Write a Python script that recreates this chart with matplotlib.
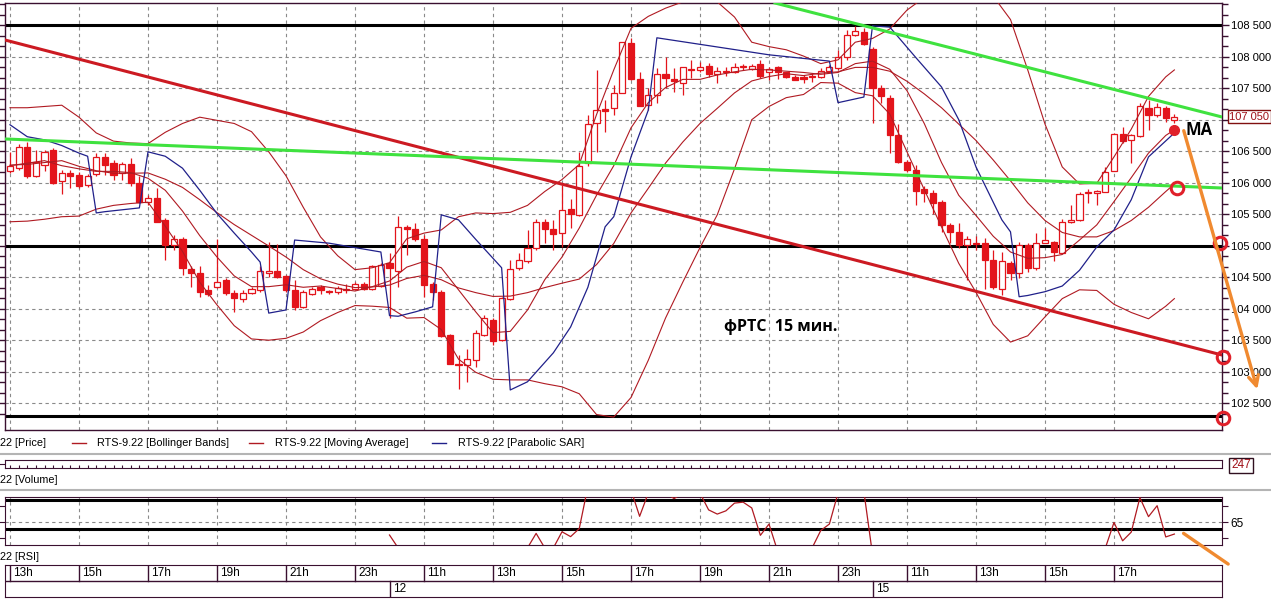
import numpy as np
import matplotlib
matplotlib.use("Agg")
import matplotlib.pyplot as plt
from matplotlib.patches import Rectangle

W, H = 1271, 601

# ---------------- candles (15 min bars) ----------------
opens = [106190,106230,106570,106100,106280,106520,106020,106150,106120,105960,
         106140,106410,106310,106150,106300,106000,105690,105750,105410,105010,
         105100,104630,104560,104290,104350,104460,104250,104150,104250,104290,
         104570,104600,104520,104300,104030,104240,104340,104280,104260,104320,
         104310,104400,104320,104360,104730,104600,105290,105260,105100,104400,
         104270,103580,103130,103100,103190,103580,103820,103510,104150,104640,
         104760,104960,105370,105260,105200,105580,105490,106310,106940,107170,
         107180,107430,108210,107640,107240,107400,107730,107650,107590,107810,
         107790,107850,107730,107780,107750,107840,107810,107880,107760,107830,
         107750,107670,107670,107690,107670,107780,107820,107990,108340,108390,
         108120,107510,107340,106760,106330,106200,105900,105830,105700,105330,
         105220,105010,105020,105050,104780,104320,104730,104560,105010,104640,
         105050,105060,104890,105370,105410,105830,105840,105860,106190,106780,
         106680,106740,107180,107070,107190,107000]
highs = [106490,106610,106650,106520,106520,106550,106200,106200,106170,106140,
         106470,106470,106360,106330,106390,106100,105800,105920,105440,105170,
         105140,104670,104670,104380,105100,104490,104300,104300,104340,104670,
         105060,105020,104530,104460,104300,104350,104380,104290,104360,104400,
         104430,104430,104690,104720,104890,105470,105330,105360,105170,104430,
         104300,103600,103270,103360,103660,103900,103850,104190,104770,104880,
         105250,105430,105430,105410,105960,105740,106490,107070,107790,107310,
         107550,108240,108290,107750,107510,107820,107990,107820,107840,107950,
         107920,107900,107840,107840,107900,107880,107880,107940,107840,107860,
         107760,107710,107710,107740,107820,107870,108110,108430,108480,108450,
         108160,107550,107400,106930,106360,106280,105940,105880,105730,105360,
         105360,105150,105160,105120,104930,104900,104750,105060,105040,105200,
         105280,105080,105430,105650,105850,105900,105880,106250,106790,106890,
         106770,107270,107310,107270,107210,107090]
lows = [106150,106200,106080,106090,106190,105980,105820,105910,105920,105930,
        106110,106120,106040,106040,105940,105670,105650,105370,104770,104930,
        104540,104340,104190,104200,104330,104220,103940,104110,104230,104270,
        104510,104490,104270,103980,104010,104220,104230,104230,104240,104250,
        104290,104300,104300,104340,103850,104340,104850,105080,104190,104140,
        103550,103120,102720,102840,103080,103570,103420,103480,104140,104610,
        104720,104930,105040,104930,104980,105280,105470,106270,106490,106810,
        107070,107420,107630,107210,107150,107270,107510,107440,107390,107660,
        107760,107670,107580,107690,107740,107790,107790,107660,107630,107640,
        107660,107630,107580,107600,107660,107760,107790,107950,108330,108190,
        106950,107260,106470,106310,106170,105650,105700,105510,105220,105040,
        104960,104460,104930,104320,104320,104220,104460,104480,104590,104610,
        105040,104750,104880,105360,105390,105670,105650,105850,106190,106630,
        106310,106730,106840,107050,106970,106950]
closes = [106270,106570,106100,106330,106490,106000,106150,106110,105940,106110,
          106410,106280,106130,106290,105990,105700,105750,105380,105010,105100,
          104640,104560,104270,104230,104430,104250,104170,104250,104310,104600,
          104600,104510,104290,104030,104270,104320,104300,104270,104330,104290,
          104400,104320,104680,104690,104640,105300,105260,105100,104370,104260,
          103560,103130,103100,103200,103610,103850,103490,104170,104630,104780,
          104960,105380,105260,105180,105570,105510,106270,106930,107150,107140,
          107420,108230,107640,107220,107400,107730,107660,107610,107830,107790,
          107840,107730,107770,107750,107830,107840,107850,107690,107800,107750,
          107670,107630,107650,107670,107780,107830,107990,108340,108410,108200,
          107510,107370,106760,106330,106200,105870,105830,105680,105330,105220,
          105010,105100,105050,104780,104340,104750,104560,105010,104640,105050,
          105090,104900,105370,105410,105820,105860,105870,106170,106780,106660,
          106760,107220,107070,107200,107020,107050]

# ---------------- indicator lines (read at every 2nd bar) ----------------
band_bars = [0, 2, 4, 6, 8, 10, 12, 14, 16, 18, 20, 22, 24, 26, 28, 30, 32, 34,
             36, 38, 40, 42, 44, 46, 48, 50, 52, 54, 56, 58, 60, 62, 64, 66, 68,
             70, 72, 74, 76, 78, 80, 82, 84, 86, 88, 90, 92, 94, 96, 98, 100,
             102, 104, 106, 108, 110, 112, 114, 116, 118, 120, 122, 124, 126,
             128, 130, 132, 134, 135]
bb_upper = [107190, 107190, 107210, 107230, 107040, 106790, 106660, 106630,
            106620, 106800, 106940, 107040, 106990, 106940, 106810, 106490,
            106110, 105610, 105140, 104840, 104620, 104650, 104730, 105110,
            105200, 105250, 105460, 105520, 105510, 105530, 105640, 105860,
            106050, 106290, 107080, 107790, 108450, 108640, 108770, 108870,
            108910, 108870, 108630, 108230, 108160, 108110, 108010, 107890,
            107950, 108230, 108290, 108440, 108740, 108940, 109080, 109150,
            109090, 108960, 108590, 107790, 106930, 106250, 105980, 105990,
            106410, 106850, 107370, 107680, 107790]
bb_middle = [106280, 106290, 106320, 106350, 106260, 106190, 106150, 106150,
             106155, 106055, 105925, 105730, 105525, 105335, 105165, 104995,
             104820, 104620, 104475, 104390, 104335, 104345, 104375, 104480,
             104530, 104460, 104330, 104255, 104195, 104200, 104255, 104335,
             104405, 104470, 104700, 105035, 105520, 105910, 106310, 106645,
             106940, 107180, 107425, 107615, 107685, 107730, 107700, 107740,
             107760, 107830, 107830, 107770, 107610, 107410, 107190, 106930,
             106670, 106360, 106030, 105680, 105400, 105210, 105140, 105140,
             105240, 105400, 105610, 105860, 105980]
bb_lower = [105380, 105390, 105420, 105460, 105470, 105580, 105640, 105670,
            105690, 105310, 104910, 104420, 104060, 103730, 103520, 103500,
            103530, 103630, 103810, 103940, 104050, 104040, 104020, 103850,
            103860, 103670, 103200, 102990, 102880, 102870, 102870, 102810,
            102760, 102650, 102320, 102280, 102590, 103180, 103850, 104420,
            104970, 105490, 106220, 107000, 107210, 107350, 107400, 107590,
            107580, 107430, 107380, 107090, 106490, 105890, 105300, 104720,
            104260, 103750, 103470, 103570, 103870, 104160, 104300, 104290,
            104070, 103940, 103840, 104040, 104160]
moving_avg = [106270, 106310, 106350, 106270, 106220, 106180, 106180, 106160,
              106070, 105880, 105550, 105160, 104820, 104520, 104350, 104350,
              104380, 104340, 104360, 104320, 104280, 104350, 104440, 104660,
              104750, 104650, 104300, 103950, 103620, 103640, 103980, 104460,
              104820, 105280, 105800, 106270, 106870, 107270, 107510, 107640,
              107640, 107710, 107760, 107800, 107790, 107770, 107750, 107720,
              107750, 107890, 107930, 107800, 107460, 106940, 106320, 105800,
              105480, 105150, 104900, 104800, 104810, 104860, 105090, 105330,
              105700, 106080, 106470, 106750, 106840]

sar_bars = [0, 2, 4, 6, 8, 9, 10, 11, 13, 15, 16, 18, 20, 22, 24, 26, 28, 29,
            30, 32, 33, 37, 43, 44, 45, 47, 49, 50, 52, 54, 56, 57, 58, 60, 63,
            65, 67, 69, 70, 72, 74, 75, 88, 95, 96, 99, 100, 102, 105, 108, 110,
            112, 115, 116, 117, 118, 120, 122, 124, 126, 128, 130, 132, 135]
sar_vals = [106920, 106730, 106680, 106590, 106470, 106420, 105520, 105540,
            105570, 105600, 106490, 106420, 106230, 105880, 105510, 105200,
            104900, 104740, 103930, 103980, 105090, 105040, 104900, 103890,
            103880, 103950, 104030, 105490, 105410, 105100, 104800, 104650,
            102710, 102840, 103300, 103710, 104340, 105300, 105460, 106410,
            107150, 108300, 108030, 107930, 107270, 107360, 108490, 108470,
            107990, 107520, 107000, 106250, 105410, 105220, 104190, 104210,
            104270, 104360, 104610, 104980, 105250, 105730, 106410, 106790]

rsi_bars = [44, 45, 60, 61, 62, 63, 64, 65, 66, 67, 72, 73, 74, 76, 77, 78, 80,
            81, 82, 83, 84, 85, 86, 87, 88, 89, 93, 94, 95, 96, 99, 100, 127,
            128, 129, 130, 131, 132, 133, 134, 135]
rsi_vals = [61.0, 57.0, 57.0, 61.5, 57.0, 57.0, 62.0, 60.5, 63.0, 76.0, 75.0,
            66.8, 74.0, 74.0, 72.3, 74.0, 74.0, 68.8, 67.5, 68.5, 70.9, 71.2,
            69.4, 60.9, 64.4, 56.0, 57.0, 62.4, 64.4, 74.0, 74.5, 55.0, 57.0,
            64.9, 59.2, 61.9, 72.6, 66.7, 70.1, 60.4, 61.3]

hour_labels = ["13h", "15h", "17h", "19h", "21h", "23h", "11h", "13h", "15h",
               "17h", "19h", "21h", "23h", "11h", "13h", "15h", "17h"]
hour_bars = [0, 8, 16, 24, 32, 40, 48, 56, 64, 72, 80, 88, 96, 104, 112, 120, 128]
day_labels = ["12", "15"]
day_bars = [44, 100]

price_ticks = [102500, 103000, 103500, 104000, 104500, 105000, 105500, 106000,
               106500, 107000, 107500, 108000, 108500]
level_lines = [108500, 105000, 102300]
trend_red_x = [-0.58, 140.52]
trend_red_y = [108265, 103265]
green1_x = [-0.58, 140.52]
green1_y = [106694, 105916]
green2_x = [88.7, 140.52]
green2_y = [108852, 107043]
circle_x = [135.3, 140.3, 140.6, 140.6]
circle_y = [105916, 105043, 103233, 102265]
arrow_x = [136.0, 144.7]
arrow_y = [106868, 102678]
rsi_arrow_x = [135.8, 141.5]
rsi_arrow_y = [62.0, 51.5]
last_price = 107050
last_volume = 247
rsi_levels = [72, 63]
rsi_mid = 65

# ---------------- styles ----------------
RED = '#e3141b'
BAND = '#b01a22'
SARC = '#20208a'
GREEN = '#3fe23f'
TREND = '#cc1a22'
ORANGE = '#f08a30'
SPINE = '#3a1030'
GRIDC = '#8a8a8a'
NARROW = ['Liberation Sans', 'DejaVu Sans']

PXB = 8.625
XL = ((5 - 10) / PXB, (1222 - 10) / PXB)

fig = plt.figure(figsize=(W / 100, H / 100), dpi=100)
fig.patch.set_facecolor('white')


def ax_px(x0, y0, x1, y1):
    return fig.add_axes([x0 / W, 1 - y1 / H, (x1 - x0) / W, (y1 - y0) / H])


def ftext(x, y, s, **kw):
    fig.text(x / W, 1 - y / H, s, **kw)


def fmt_price(p):
    return f"{p // 1000} {p % 1000:03d}"


# ---------------- main price panel ----------------
ax = ax_px(5, 3, 1222, 430)
ax.set_xlim(*XL)
ax.set_ylim(108900 - 15.873 * 430, 108900 - 15.873 * 3)
for s in ax.spines.values():
    s.set_color(SPINE)
    s.set_linewidth(1.0)
for b in hour_bars:
    ax.axvline(b, color=GRIDC, lw=0.8, ls=(0, (3, 3)), zorder=1)
for p in price_ticks:
    ax.axhline(p, color=GRIDC, lw=0.8, ls=(0, (3, 3)), zorder=1)
for p in level_lines:
    ax.axhline(p, color='black', lw=2.2, zorder=2)

for series in (bb_upper, bb_middle, bb_lower, moving_avg):
    ax.plot(band_bars, series, color=BAND, lw=0.8, zorder=5)
ax.plot(sar_bars, sar_vals, color=SARC, lw=0.9, zorder=5)

for i, (o, h, l, cl) in enumerate(zip(opens, highs, lows, closes)):
    ax.plot([i, i], [l, h], color=RED, lw=0.9, zorder=3, solid_capstyle='butt')
    bot, top = min(o, cl), max(o, cl)
    ht = max(top - bot, 14)
    up = cl >= o
    ax.add_patch(Rectangle((i - 0.36, bot), 0.72, ht,
                           facecolor='white' if up else RED,
                           edgecolor=RED, lw=0.9, zorder=4))

ax.plot(trend_red_x, trend_red_y, color=TREND, lw=2.2, zorder=6)
ax.plot(green1_x, green1_y, color=GREEN, lw=2.2, zorder=6)
ax.plot(green2_x, green2_y, color=GREEN, lw=2.2, zorder=6)
ax.plot(circle_x, circle_y, ls='none', marker='o', ms=9, mfc='none',
        mec='#e0202a', mew=2.2, zorder=8, clip_on=False)
ax.plot([band_bars[-1]], [moving_avg[-1]], ls='none', marker='o', ms=7,
        color='#e0202a', zorder=8)
ax.text(136.3, 106837, 'MA', fontsize=12, fontweight='bold',
        family=['Open Sans', 'DejaVu Sans'], va='center', ha='left', zorder=9)
ax.text(89.4, 103710, 'фРТС  15 мин.', fontsize=11.5, fontweight='bold',
        family=['Open Sans', 'DejaVu Sans'], va='center', ha='center', zorder=9)
ax.annotate('', xy=(arrow_x[1], arrow_y[1]), xytext=(arrow_x[0], arrow_y[0]),
            arrowprops=dict(arrowstyle='->', color=ORANGE, lw=2.4,
                            mutation_scale=18),
            annotation_clip=False, zorder=9)

ax.set_xticks([])
ax.yaxis.tick_right()
ax.set_yticks(price_ticks)
ax.set_yticklabels(['' if p == 107000 else fmt_price(p) for p in price_ticks],
                   family=NARROW, fontsize=8)
ax.tick_params(axis='y', which='major', length=5, width=1, color=SPINE,
               pad=1.2, left=True, right=True)
ax.set_yticks(np.arange(102500 - 500 / 3, 108852, 500 / 3), minor=True)
ax.tick_params(axis='y', which='minor', length=4, width=1, color=SPINE,
               left=True, right=True)
ax.text(140.52 + 0.85, last_price, fmt_price(last_price),
        family=NARROW, fontsize=8, color='#a01018', va='center', ha='left',
        bbox=dict(boxstyle='square,pad=0.12', fc='white', ec='#801010', lw=1),
        clip_on=False, zorder=10)

# ---------------- legend row ----------------
LEGFS = 7.8
ftext(0, 443, '22 [Price]', family=NARROW, fontsize=LEGFS, va='center')
fig.add_artist(plt.Line2D([72 / W, 86 / W], [1 - 443 / H] * 2, color=BAND, lw=1))
ftext(97, 443, 'RTS-9.22 [Bollinger Bands]', family=NARROW, fontsize=LEGFS, va='center')
fig.add_artist(plt.Line2D([249 / W, 263 / W], [1 - 443 / H] * 2, color=BAND, lw=1))
ftext(275, 443, 'RTS-9.22 [Moving Average]', family=NARROW, fontsize=LEGFS, va='center')
fig.add_artist(plt.Line2D([432 / W, 446 / W], [1 - 443 / H] * 2, color=SARC, lw=1))
ftext(458, 443, 'RTS-9.22 [Parabolic SAR]', family=NARROW, fontsize=LEGFS, va='center')
for yy in (453.5, 490):
    fig.add_artist(plt.Line2D([0, 1], [1 - yy / H] * 2, color='#b4b4b4', lw=1.5))

# ---------------- volume panel ----------------
axv = ax_px(5, 460, 1222, 468)
axv.set_xlim(*XL)
axv.set_ylim(0, 1)
for s in axv.spines.values():
    s.set_color(SPINE)
axv.set_xticks(np.arange(0, len(closes), 1))
axv.set_xticklabels([])
axv.tick_params(axis='x', direction='in', length=2.5, color=SPINE, top=False)
axv.set_yticks([0.5])
axv.set_yticklabels([])
axv.tick_params(axis='y', length=4, color=SPINE)
ftext(1231, 465.5, str(last_volume), family=NARROW, fontsize=8.5, color='#a01018',
      va='center', ha='left',
      bbox=dict(boxstyle='square,pad=0.15', fc='white', ec='#301020', lw=1))
ftext(0, 480, '22 [Volume]', family=NARROW, fontsize=LEGFS, va='center')

# ---------------- RSI panel ----------------
axr = ax_px(5, 497, 1222, 545)
axr.set_xlim(*XL)
axr.set_ylim(57.9, 72.8)
for s in axr.spines.values():
    s.set_color(SPINE)
for b in hour_bars:
    axr.axvline(b, color=GRIDC, lw=0.8, ls=(0, (3, 3)), zorder=1)
axr.axhline(rsi_mid, color=GRIDC, lw=0.8, ls=(0, (3, 3)), zorder=1)
for lv in rsi_levels:
    axr.axhline(lv, color='black', lw=2.2, zorder=2)
axr.plot(rsi_bars, rsi_vals, color=BAND, lw=0.9, zorder=3)
axr.annotate('', xy=(rsi_arrow_x[1], rsi_arrow_y[1]),
             xytext=(rsi_arrow_x[0], rsi_arrow_y[0]),
             arrowprops=dict(arrowstyle='-', color=ORANGE, lw=2.4),
             annotation_clip=False)
axr.set_xticks([])
axr.yaxis.tick_right()
axr.set_yticks([60, 65, 70])
axr.set_yticklabels(['', '65', ''], family=NARROW, fontsize=8.5)
axr.tick_params(axis='y', length=4, color=SPINE, left=True, right=True, pad=2)
ftext(0, 557, '22 [RSI]', family=NARROW, fontsize=LEGFS, va='center')

# ---------------- time axis ----------------
axt = ax_px(5, 565, 1222, 597)
axt.set_xlim(*XL)
axt.set_ylim(0, 2)
axt.set_xticks([])
axt.set_yticks([])
for s in axt.spines.values():
    s.set_color(SPINE)
axt.axhline(1, color=SPINE, lw=1)
for b, lab in zip(hour_bars, hour_labels):
    axt.plot([b, b], [1, 2], color=SPINE, lw=1)
    axt.text(b + 0.4, 1.5, lab, family=NARROW, fontsize=8.5, va='center', ha='left')
for b, lab in zip(day_bars, day_labels):
    axt.plot([b, b], [0, 1], color=SPINE, lw=1)
    axt.text(b + 0.4, 0.5, lab, family=NARROW, fontsize=8.5, va='center', ha='left')

fig.savefig('out.png', dpi=100, facecolor='white')
